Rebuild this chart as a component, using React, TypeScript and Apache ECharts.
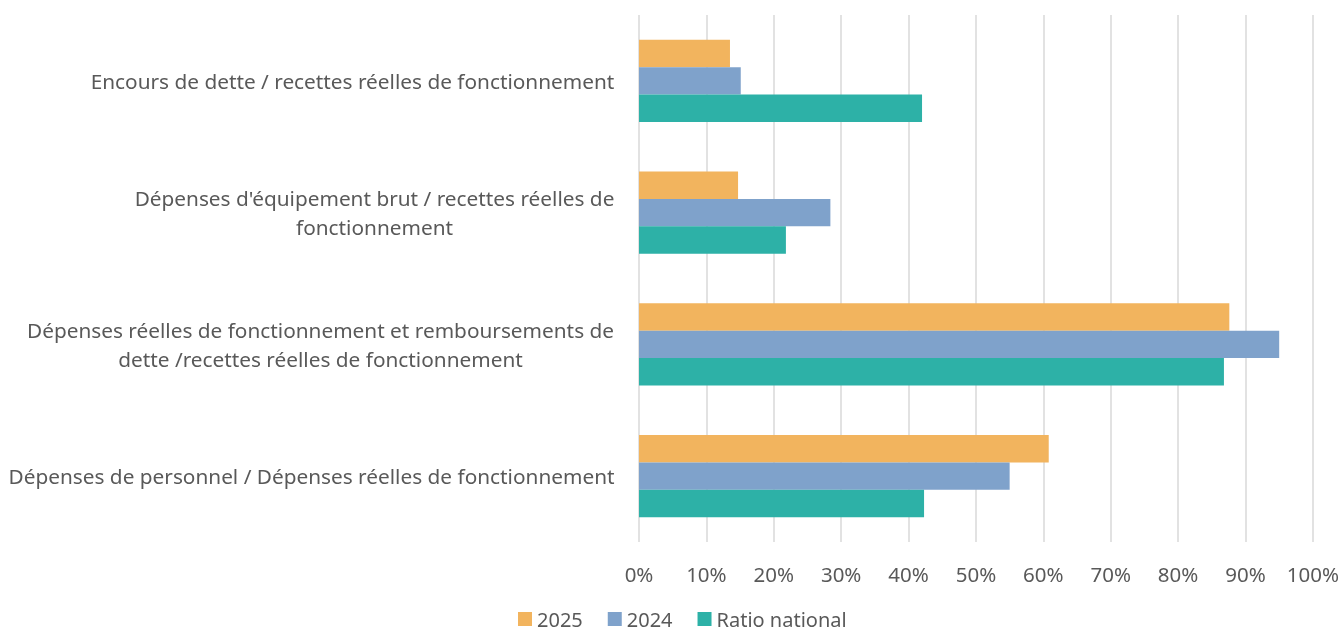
import React, { useEffect, useRef } from "react";
import * as echarts from "echarts";

const categories = [
  "Encours de dette / recettes réelles de fonctionnement",
  "Dépenses d'équipement brut / recettes réelles de\nfonctionnement",
  "Dépenses réelles de fonctionnement et remboursements de\ndette /recettes réelles de fonctionnement",
  "Dépenses de personnel / Dépenses réelles de fonctionnement",
];
const seriesNames = ["2025", "2024", "Ratio national"];
const values2025 = [13.5, 14.7, 87.6, 60.8];
const values2024 = [15.1, 28.4, 95.0, 55.0];
const valuesNational = [42.0, 21.8, 86.8, 42.3];
const xTicks = [0, 10, 20, 30, 40, 50, 60, 70, 80, 90, 100];

const colors = ["#F2B45E", "#7FA2CB", "#2DB1A7"];
const FONT = "Noto Sans";
const LABEL_SIZE = 20.8;
const AXIS_SIZE = 20.5;
const LEGEND_SIZE = 20;

export default function App() {
  const ref = useRef<HTMLDivElement>(null);
  useEffect(() => {
    if (!ref.current) return;
    const chart = echarts.init(ref.current, undefined, { renderer: "svg" });
    const canvas = document.createElement("canvas");
    const ctx = canvas.getContext("2d")!;
    ctx.font = `${LABEL_SIZE}px "${FONT}"`;
    const rich: Record<string, any> = {};
    categories.forEach((c, i) => {
      const w = Math.max(...c.split("\n").map((l) => ctx.measureText(l).width));
      rich["c" + i] = {
        width: Math.ceil(w) + 1,
        align: "center",
        fontSize: LABEL_SIZE,
        fontFamily: FONT,
        color: "#595959",
        lineHeight: 28.5,
      };
    });
    const data = [values2025, values2024, valuesNational];
    chart.setOption({
      animation: false,
      textStyle: { fontFamily: FONT },
      color: colors,
      grid: { left: 639, right: 29, top: 15, bottom: 93, containLabel: false },
      legend: {
        data: seriesNames,
        top: 609,
        left: 518,
        padding: 0,
        itemWidth: 14,
        itemHeight: 14,
        itemGap: 25,
        icon: "rect",
        textStyle: { fontSize: LEGEND_SIZE, color: "#595959", fontFamily: FONT },
      },
      xAxis: {
        type: "value",
        min: xTicks[0],
        max: xTicks[xTicks.length - 1],
        interval: xTicks[1] - xTicks[0],
        axisLine: { show: false },
        axisTick: { show: false },
        splitLine: { show: true, lineStyle: { color: "#D9D9D9", width: 1.5 } },
        axisLabel: {
          formatter: "{value}%",
          fontSize: AXIS_SIZE,
          color: "#595959",
          margin: 21,
          fontFamily: FONT,
        },
      },
      yAxis: {
        type: "category",
        data: categories,
        inverse: true,
        axisLine: { show: false },
        axisTick: { show: false },
        axisLabel: {
          margin: 24,
          formatter: (v: string) => {
            const i = categories.indexOf(v);
            return v
              .split("\n")
              .map((l) => `{c${i}|${l}}`)
              .join("\n");
          },
          rich,
        },
      },
      series: seriesNames.map((name, i) => ({
        name,
        type: "bar",
        data: data[i],
        barGap: 0,
        barCategoryGap: "37.5%",
        itemStyle: { color: colors[i] },
      })),
    });
    return () => chart.dispose();
  }, []);
  return (
    <div
      ref={ref}
      style={{ position: "fixed", left: 0, top: 0, width: 1342, height: 635 }}
    />
  );
}
